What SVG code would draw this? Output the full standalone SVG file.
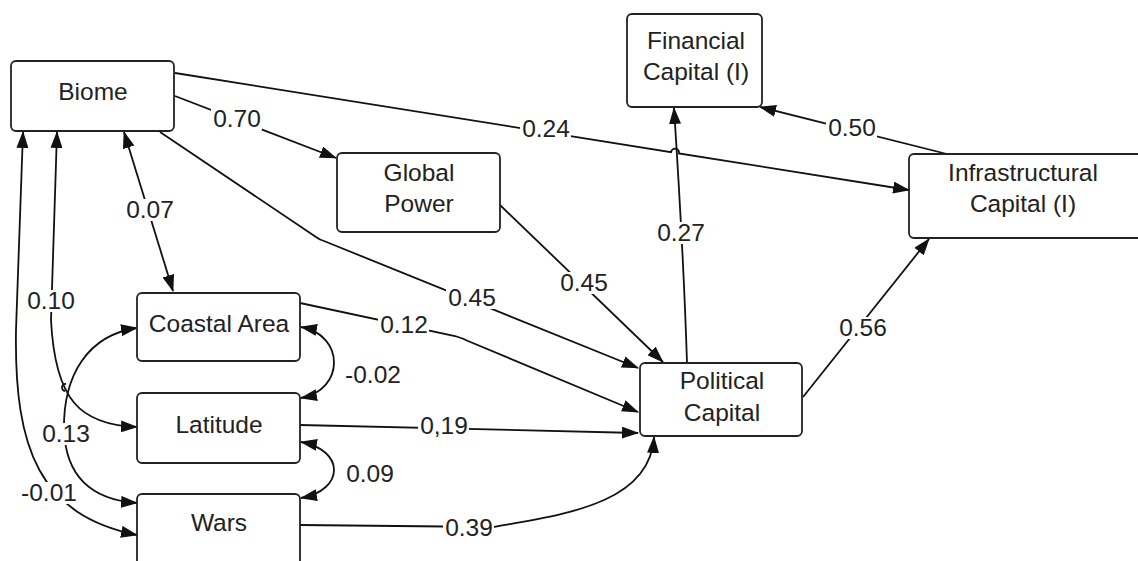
<svg xmlns="http://www.w3.org/2000/svg" width="1138" height="561" viewBox="0 0 1138 561">
  <style>
    .box { fill: #fff; stroke: #222; stroke-width: 1.8; }
    .nt { font-family: "Liberation Sans", Arial, sans-serif; font-size: 24.5px; fill: #222; text-anchor: middle; }
    .ln { fill: none; stroke: #111; stroke-width: 1.8; }
    .bg { fill: #fff; }
    .lb { font-family: "Liberation Sans", Arial, sans-serif; font-size: 24.5px; fill: #222; text-anchor: middle; }
  </style>
  <defs>
    <marker id="ah" markerUnits="userSpaceOnUse" viewBox="0 0 17 12" refX="16" refY="6" markerWidth="17" markerHeight="12" orient="auto-start-reverse">
      <path d="M0,0 L17,6 L0,12 z" fill="#111"/>
    </marker>
  </defs>
  <rect width="1138" height="561" fill="#fff"/>

  <g id="connectors">
    <path class="ln" d="M175,73 L671,152.1 A4,4 0 0 1 679,153.4 L909,190" marker-end="url(#ah)"/>
    <path class="ln" d="M175,96 L336,158" marker-end="url(#ah)"/>
    <path class="ln" d="M160,132 L316,237 Q320,240 324,241 L638,368" marker-end="url(#ah)"/>
    <path class="ln" d="M124,132 L173,291" marker-start="url(#ah)" marker-end="url(#ah)"/>
    <path class="ln" d="M500,205 L663,362" marker-end="url(#ah)"/>
    <path class="ln" d="M687,363 C 685,300 680,200 674,108" marker-end="url(#ah)"/>
    <path class="ln" d="M947,154 L760,107" marker-end="url(#ah)"/>
    <path class="ln" d="M803,397 L929,239" marker-end="url(#ah)"/>
    <path class="ln" d="M300,303 L455,336 Q462,338 468,341 L638,412" marker-end="url(#ah)"/>
    <path class="ln" d="M300,425 L638,433" marker-end="url(#ah)"/>
    <path class="ln" d="M300,525 L493,527 C 560,515 650,505 654,437" marker-end="url(#ah)"/>
    <path class="ln" d="M301,327 C 345,335 345,390 301,398" marker-start="url(#ah)" marker-end="url(#ah)"/>
    <path class="ln" d="M301,442 C 345,450 345,490 301,498" marker-start="url(#ah)" marker-end="url(#ah)"/>
    <path class="ln" d="M23,132 L16,330 C 14,450 40,515 137,535" marker-start="url(#ah)" marker-end="url(#ah)"/>
    <path class="ln" d="M57,132 L51,320 C 55,400 80,425 137,427" marker-start="url(#ah)" marker-end="url(#ah)"/>
    <path class="ln" d="M137,328 C 88,335 63,375 64,430 C 66,480 95,500 137,503" marker-start="url(#ah)" marker-end="url(#ah)"/>
    <path class="ln" d="M66,384 A3.5,3.5 0 0 0 65,391"/>

    <rect class="bg" x="211" y="108" width="51" height="22"/>
    <rect class="bg" x="124" y="199" width="51" height="22"/>
    <rect class="bg" x="520" y="118" width="51" height="22"/>
    <rect class="bg" x="558" y="272" width="51" height="22"/>
    <rect class="bg" x="446" y="287" width="51" height="22"/>
    <rect class="bg" x="378" y="314" width="51" height="22"/>
    <rect class="bg" x="344" y="364" width="59" height="22"/>
    <rect class="bg" x="418" y="415" width="51" height="22"/>
    <rect class="bg" x="344" y="463" width="51" height="22"/>
    <rect class="bg" x="443" y="517" width="51" height="22"/>
    <rect class="bg" x="655" y="222" width="51" height="22"/>
    <rect class="bg" x="826" y="117" width="51" height="22"/>
    <rect class="bg" x="837" y="317" width="51" height="22"/>
    <rect class="bg" x="25" y="290" width="51" height="22"/>
    <rect class="bg" x="40" y="423" width="51" height="22"/>
    <rect class="bg" x="20" y="482" width="59" height="22"/>

    <text class="lb" x="237" y="127">0.70</text>
    <text class="lb" x="150" y="218">0.07</text>
    <text class="lb" x="546" y="137">0.24</text>
    <text class="lb" x="584" y="291">0.45</text>
    <text class="lb" x="472" y="306">0.45</text>
    <text class="lb" x="404" y="333">0.12</text>
    <text class="lb" x="373" y="383">-0.02</text>
    <text class="lb" x="444" y="434">0,19</text>
    <text class="lb" x="370" y="482">0.09</text>
    <text class="lb" x="469" y="536">0.39</text>
    <text class="lb" x="681" y="241">0.27</text>
    <text class="lb" x="852" y="136">0.50</text>
    <text class="lb" x="863" y="336">0.56</text>
    <text class="lb" x="51" y="309">0.10</text>
    <text class="lb" x="66" y="442">0.13</text>
    <text class="lb" x="49" y="501">-0.01</text>
  </g>

  <g id="biome">
    <rect class="box" x="11" y="61" width="163" height="70" rx="5"/>
    <text class="nt" x="93" y="100">Biome</text>
  </g>
  <g id="global-power">
    <rect class="box" x="337" y="153" width="163" height="79" rx="5"/>
    <text class="nt" x="419" y="181">Global</text>
    <text class="nt" x="419" y="212">Power</text>
  </g>
  <g id="coastal-area">
    <rect class="box" x="137" y="293" width="163" height="68" rx="5"/>
    <text class="nt" x="219" y="332">Coastal Area</text>
  </g>
  <g id="latitude">
    <rect class="box" x="137" y="393" width="163" height="70" rx="5"/>
    <text class="nt" x="219" y="433">Latitude</text>
  </g>
  <g id="wars">
    <rect class="box" x="137" y="494" width="163" height="90" rx="5"/>
    <text class="nt" x="219" y="531">Wars</text>
  </g>
  <g id="financial-capital">
    <rect class="box" x="627" y="14" width="135" height="93" rx="5"/>
    <text class="nt" x="696" y="49">Financial</text>
    <text class="nt" x="696" y="80">Capital (I)</text>
  </g>
  <g id="infrastructural-capital">
    <rect class="box" x="909" y="154" width="240" height="84" rx="5"/>
    <text class="nt" x="1023" y="181">Infrastructural</text>
    <text class="nt" x="1023" y="212">Capital (I)</text>
  </g>
  <g id="political-capital">
    <rect class="box" x="640" y="363" width="162" height="73" rx="5"/>
    <text class="nt" x="722" y="389">Political</text>
    <text class="nt" x="722" y="421">Capital</text>
  </g>
</svg>
